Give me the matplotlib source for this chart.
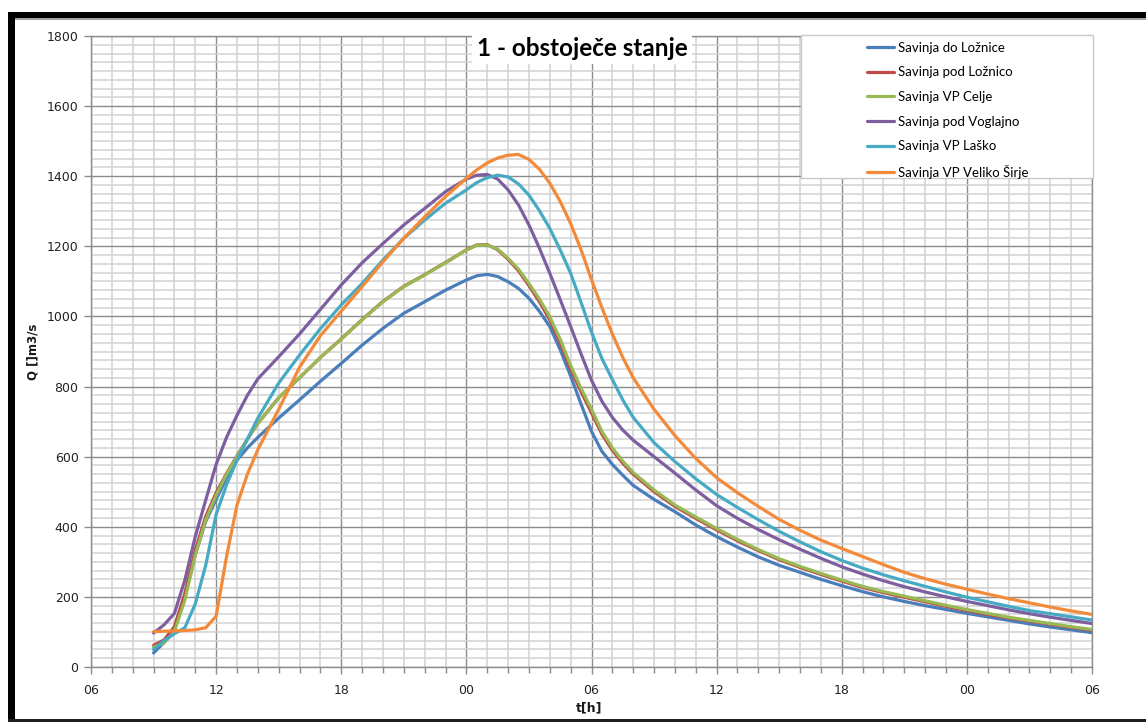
import matplotlib
matplotlib.use("Agg")
import matplotlib.pyplot as plt
from matplotlib.ticker import MultipleLocator, FixedLocator
from matplotlib.patches import Rectangle

# time in hours after 06:00 of day 1
hours = [3, 3.5, 4, 4.5, 5, 5.5, 6, 6.5, 7, 7.5, 8,
         9, 10, 11, 12, 13, 14, 15, 16, 17, 18,
         18.5, 19, 19.5, 20, 20.5, 21, 21.5, 22, 22.5, 23, 23.5, 24, 24.5, 25, 25.5, 26,
         27, 28, 29, 30, 31, 32, 33, 34, 35, 36, 37, 38, 39, 40, 41, 42, 43, 44, 45,
         46, 47, 48]

do_loznice = [40, 70, 110, 200, 320, 415, 478, 540, 590, 625, 655,
              710, 762, 815, 866, 918, 966, 1009, 1042, 1075, 1104,
              1116, 1120, 1114, 1099, 1080, 1052, 1015, 971, 905, 830, 750, 672, 615, 578,
              547, 518,
              478, 443, 405, 372, 342, 314, 290, 270, 250, 232, 215, 200, 187, 175, 164,
              153, 143, 133, 123, 114, 106, 98]
pod_loznico = [62, 77, 115, 210, 334, 429, 497, 552, 602, 650, 695,
               768, 825, 883, 936, 991, 1043, 1086, 1119, 1154, 1190,
               1204, 1205, 1190, 1163, 1130, 1088, 1042, 990, 925, 850, 785, 725, 664, 618,
               581, 550,
               500, 458, 424, 391, 360, 332, 306, 284, 264, 245, 227, 212, 199, 186, 173,
               161, 150, 140, 131, 122, 113, 105]
vp_celje = [57, 68, 101, 191, 319, 419, 490, 550, 600, 650, 695,
            768, 825, 883, 935, 990, 1042, 1085, 1118, 1153, 1189,
            1203, 1204, 1192, 1166, 1135, 1094, 1050, 999, 935, 860, 795, 735, 672, 625,
            587, 555,
            505, 462, 428, 395, 364, 335, 309, 287, 267, 248, 230, 215, 202, 189, 176,
            164, 153, 142, 133, 124, 115, 107]
pod_voglajno = [97, 120, 153, 248, 372, 476, 578, 655, 718, 775, 822,
                885, 950, 1020, 1090, 1153, 1208, 1261, 1308, 1356, 1392,
                1403, 1405, 1392, 1361, 1318, 1261, 1195, 1123, 1048, 971, 893, 818, 758, 712,
                676, 647,
                600, 553, 505, 460, 424, 392, 363, 336, 310, 286, 265, 246, 229, 214, 200,
                187, 175, 163, 152, 142, 133, 124]
vp_lasko = [50, 75, 95, 112, 180, 290, 435, 520, 590, 650, 710,
            810, 890, 965, 1033, 1094, 1161, 1223, 1275, 1323, 1361,
            1382, 1396, 1403, 1398, 1378, 1346, 1302, 1251, 1190, 1123, 1040, 955, 880, 820,
            762, 712,
            640, 586, 537, 492, 455, 420, 387, 357, 329, 304, 282, 263, 246, 230, 214,
            199, 186, 173, 161, 152, 143, 134]
vp_veliko_sirje = [101, 102, 103, 104, 106, 112, 145, 315, 462, 550, 620,
                   735, 855, 945, 1015, 1085, 1156, 1223, 1284, 1342, 1394,
                   1418, 1438, 1452, 1460, 1462, 1448, 1420, 1380, 1328, 1265, 1190, 1105, 1025,
                   950, 883, 825,
                   735, 660, 595, 540, 497, 458, 421, 390, 362, 338, 315, 292, 270, 252, 236,
                   222, 208, 195, 183, 171, 160, 150]

series_names = ["Savinja do Ložnice", "Savinja pod Ložnico", "Savinja VP Celje",
                "Savinja pod Voglajno", "Savinja VP Laško", "Savinja VP Veliko Širje"]
series_values = [do_loznice, pod_loznico, vp_celje, pod_voglajno, vp_lasko, vp_veliko_sirje]
colors = ["#4A7EBB", "#BE4B48", "#98B954", "#7D5FA0", "#46AAC5", "#F38A3A"]

x_tick_hours = [0, 6, 12, 18, 24, 30, 36, 42, 48]
x_tick_labels = ["06", "12", "18", "00", "06", "12", "18", "00", "06"]
y_ticks = [0, 200, 400, 600, 800, 1000, 1200, 1400, 1600, 1800]

W, H = 1146, 722
fig = plt.figure(figsize=(W / 100, H / 100), dpi=100)
fig.patch.set_facecolor("white")

ax = fig.add_axes([91 / W, 1 - 667 / H, (1092 - 91) / W, (667 - 36) / H])
ax.set_xlim(0, 48)
ax.set_ylim(0, 1800)

ax.xaxis.set_major_locator(FixedLocator(x_tick_hours))
ax.xaxis.set_minor_locator(MultipleLocator(1))
ax.yaxis.set_major_locator(FixedLocator(y_ticks))
ax.yaxis.set_minor_locator(MultipleLocator(25))
ax.set_xticklabels(x_tick_labels)

ax.grid(which="minor", color="#d2d2d2", linewidth=1.1, zorder=0)
ax.grid(which="major", color="#8c8c8c", linewidth=1.0, zorder=0)
ax.set_axisbelow(True)

for sp in ax.spines.values():
    sp.set_color("#8c8c8c")
    sp.set_linewidth(1.0)

ax.tick_params(axis="both", which="major", labelsize=9, colors="#8c8c8c",
               labelcolor="#222222", length=5, width=1.0)
ax.tick_params(axis="x", which="minor", length=4, colors="#8c8c8c", width=1.0)
ax.tick_params(axis="y", which="minor", length=0)
ax.tick_params(axis="x", which="major", pad=7)
ax.tick_params(axis="y", which="major", pad=4)

lines = []
for name, vals, col in zip(series_names, series_values, colors):
    ln, = ax.plot(hours, vals, color=col, linewidth=2.3, label=name, zorder=3,
                  solid_joinstyle="round", solid_capstyle="round")
    lines.append(ln)

# legend box
ax.add_patch(Rectangle(((801 - 91) / (1092 - 91), 1 - (178 - 36) / (667 - 36)),
                       (1093 - 801) / (1092 - 91), (178 - 35) / (667 - 36),
                       transform=ax.transAxes, facecolor="white", edgecolor="#c8c8c8",
                       linewidth=1.0, zorder=4, clip_on=False))

leg = ax.legend(handles=lines, loc="upper left",
                bbox_to_anchor=((861 - 91) / (1092 - 91), 1.0),
                frameon=False, prop={"family": "Lato", "size": 9.5},
                handlelength=2.1, handletextpad=0.3, labelspacing=0.96,
                borderaxespad=0.0, borderpad=0.42)
leg.set_zorder(5)

# title with white background
ax.text((582 - 91) / (1092 - 91), 1 - (48 - 36) / (667 - 36), "1 - obstoječe stanje",
        transform=ax.transAxes, ha="center", va="center", fontsize=17.5,
        fontweight="bold", family="Lato", color="black", zorder=6,
        bbox=dict(facecolor="white", edgecolor="none", pad=3))

fig.text(33 / W, 1 - 352 / H, "Q []m3/s", rotation=90, ha="center", va="center",
         fontsize=8.5, fontweight="bold", color="#1a1a1a")
fig.text(589 / W, 1 - 708 / H, "t[h]", ha="center", va="center",
         fontsize=9, fontweight="bold", color="#1a1a1a")

# outer dark frame
fig.patches.append(Rectangle((8 / W, 1 - 18 / H), 1 - 8 / W, 6 / H, transform=fig.transFigure,
                             facecolor="black", edgecolor="none", zorder=10))
fig.patches.append(Rectangle((8 / W, 1 - 20 / H), 1 - 8 / W, 1.5 / H, transform=fig.transFigure,
                             facecolor="#a0a0a0", edgecolor="none", zorder=10))
fig.patches.append(Rectangle((8 / W, 0), 7 / W, 1 - 12 / H, transform=fig.transFigure,
                             facecolor="black", edgecolor="none", zorder=10))
fig.patches.append(Rectangle((8 / W, 0), 1 - 8 / W, 3.5 / H, transform=fig.transFigure,
                             facecolor="#1e1e1e", edgecolor="none", zorder=10))

fig.savefig("out.png", dpi=100, facecolor="white")
